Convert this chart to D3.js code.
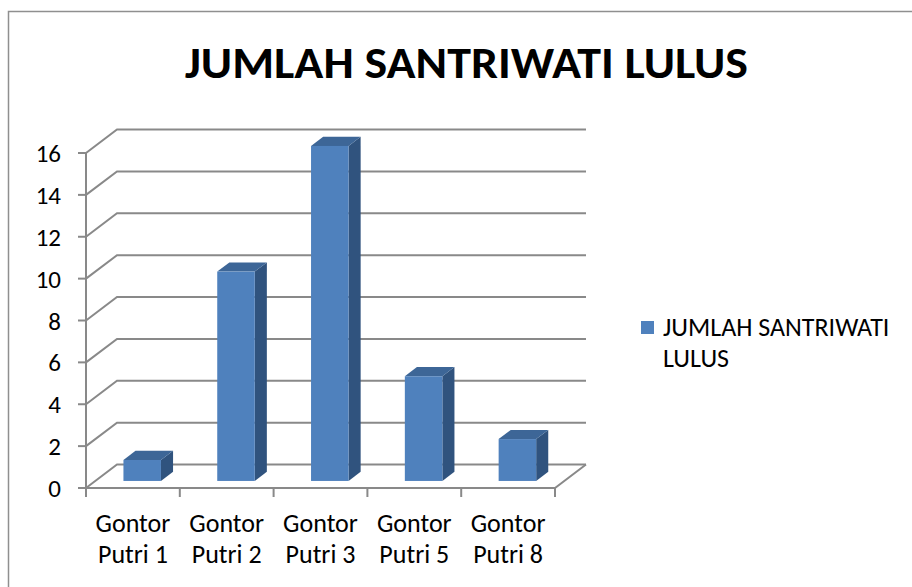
<!DOCTYPE html>
<html>
<head>
<meta charset="utf-8">
<script src="https://cdn.jsdelivr.net/npm/d3@7"></script>
<style>
  body { margin: 0; background: #fff; }
  text { font-family: Carlito, Calibri, Lato, sans-serif; fill: #000; }
</style>
</head>
<body>
<script>
var width = 912;
var height = 587;

var categories = ["Gontor Putri 1", "Gontor Putri 2", "Gontor Putri 3", "Gontor Putri 5", "Gontor Putri 8"];
var values = [1, 10, 16, 5, 2];
var yTicks = [0, 2, 4, 6, 8, 10, 12, 14, 16];
var seriesName = "JUMLAH SANTRIWATI LULUS";
var title = "JUMLAH SANTRIWATI LULUS";

var svg = d3.select("body").append("svg").attr("width", width).attr("height", height);

// chart area border (runs off the page right and bottom)
svg.append("rect")
  .attr("x", 8.5).attr("y", 11.5)
  .attr("width", 1000).attr("height", 1000)
  .attr("fill", "none")
  .attr("stroke", "#8f8f8f")
  .attr("stroke-width", 1.5);

// depth of the 3d box
var depthX = 31;
var depthY = -23.5;

var x = d3.scaleBand()
  .domain(categories)
  .range([86, 555])
  .paddingInner(0.6)
  .paddingOuter(0.3);

var y = d3.scaleLinear()
  .domain([0, 16])
  .range([488, 153]);

var grid = svg.append("g").attr("id", "grid")
  .attr("stroke", "#898989")
  .attr("stroke-width", 2)
  .attr("fill", "none");

// side wall + back wall lines
grid.selectAll("path.gl").data(yTicks).enter().append("path")
  .attr("class", "gl")
  .attr("d", function(d) {
    return "M 86 " + y(d) + " L " + (86 + depthX) + " " + (y(d) + depthY) +
      " L " + (555 + depthX) + " " + (y(d) + depthY);
  });

// floor front and right edge
grid.append("path")
  .attr("d", "M 86 " + y(0) + " L 555 " + y(0) + " L " + (555 + depthX) + " " + (y(0) + depthY));

// vertical axis + ticks
grid.append("line")
  .attr("x1", 86).attr("x2", 86)
  .attr("y1", y(16)).attr("y2", y(0));

grid.selectAll("line.yt").data(yTicks).enter().append("line")
  .attr("class", "yt")
  .attr("x1", 78).attr("x2", 86)
  .attr("y1", function(d) { return y(d); })
  .attr("y2", function(d) { return y(d); });

// category boundary ticks
var step = x.step();
var xTicks = d3.range(categories.length + 1);
grid.selectAll("line.xt").data(xTicks).enter().append("line")
  .attr("class", "xt")
  .attr("x1", function(d) { return 86 + d * step; })
  .attr("x2", function(d) { return 86 + d * step; })
  .attr("y1", y(0)).attr("y2", y(0) + 9);

svg.selectAll("text.ylab").data(yTicks).enter().append("text")
  .attr("class", "ylab")
  .attr("x", 61)
  .attr("y", function(d) { return y(d); })
  .attr("dy", "0.36em")
  .attr("text-anchor", "end")
  .style("font-size", "25px")
  .text(function(d) { return d; });

// 3d bars
var d0 = 0.3, d1 = 0.69;
var bars = svg.append("g").attr("id", "bars").selectAll("g")
  .data(categories).enter().append("g");

bars.each(function(c, i) {
  var g = d3.select(this);
  var x0 = x(c) + depthX * d0;
  var x1 = x0 + x.bandwidth();
  var yb = y(0) + depthY * d0;
  var yt = y(values[i]) + depthY * d0;
  var ox = depthX * (d1 - d0);
  var oy = depthY * (d1 - d0);
  g.append("path")
    .attr("d", "M " + x1 + " " + yb + " L " + (x1 + ox) + " " + (yb + oy) +
      " L " + (x1 + ox) + " " + (yt + oy) + " L " + x1 + " " + yt + " Z")
    .attr("fill", "#30537e");
  g.append("path")
    .attr("d", "M " + x0 + " " + yt + " L " + x1 + " " + yt +
      " L " + (x1 + ox) + " " + (yt + oy) + " L " + (x0 + ox) + " " + (yt + oy) + " Z")
    .attr("fill", "#3d6697");
  g.append("rect")
    .attr("x", x0).attr("y", yt)
    .attr("width", x.bandwidth())
    .attr("height", yb - yt)
    .attr("fill", "#4f81bd");
});

// category labels on two lines
var xlab = svg.selectAll("text.xlab").data(categories).enter().append("text")
  .attr("class", "xlab")
  .attr("text-anchor", "middle")
  .style("font-size", "26px");

xlab.append("tspan")
  .attr("x", function(d) { return x(d) + x.bandwidth() / 2; })
  .attr("y", 532)
  .text(function(d) { return d.split(" ")[0]; });
xlab.append("tspan")
  .attr("x", function(d) { return x(d) + x.bandwidth() / 2; })
  .attr("y", 563)
  .text(function(d) { return d.split(" ").slice(1).join(" "); });

// title
var t = svg.append("text")
  .attr("x", 466.5).attr("y", 78)
  .attr("text-anchor", "middle")
  .style("font-size", "45px")
  .style("font-weight", "bold")
  .text(title);
t.attr("textLength", 563).attr("lengthAdjust", "spacingAndGlyphs");

// legend
var legend = svg.append("g").attr("id", "legend");
legend.append("rect")
  .attr("x", 641).attr("y", 321)
  .attr("width", 13).attr("height", 13)
  .attr("fill", "#4f81bd");
var lt = legend.append("text").style("font-size", "26px");
lt.append("tspan").attr("x", 663).attr("y", 336).text(seriesName.split(" ").slice(0, 2).join(" "));
lt.append("tspan").attr("x", 663).attr("y", 367).text(seriesName.split(" ").slice(2).join(" "));
</script>
</body>
</html>
